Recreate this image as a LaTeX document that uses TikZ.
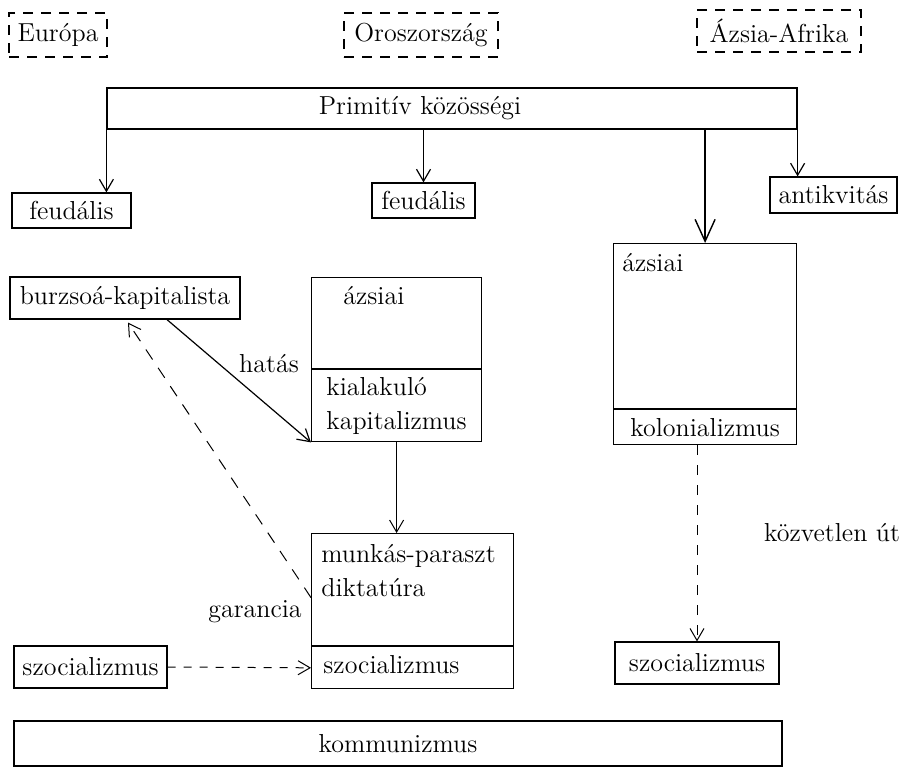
\documentclass[tikz,border=0pt]{standalone}
\usepackage{tikz}
\usetikzlibrary{positioning}
\usetikzlibrary{arrows.meta}

\begin{document}
\begin{tikzpicture}[x=0.5pt,y=-0.5pt]

 \tikzset{box/.style={
 		draw, line width=0.6pt,
 		minimum width=#1, minimum height=21pt,
 		inner sep=0pt, anchor=center
 	},
 	box/.default=50pt,
 	dashbox/.style={box=#1, dash pattern=on 5pt off 4pt},
 	part/.style 2 args={draw, line width=0.6pt,
 		minimum width=#1, minimum height=#2,
 		inner sep=0pt, anchor=north west
 	},
 	txt/.style={inner sep=0pt, align=left},
 	every node/.append style={font=\fontsize{13}{17}\selectfont},
 	>={Straight Barb[length=6pt,width=7pt]}
 }
 \useasboundingbox (0,0) rectangle (903,767);

 % fejlec
 \node[dashbox=49pt, minimum height=22pt] (eur) at (58,35) {Európa};
 \node[dashbox=77pt, minimum height=22pt] (oro) at (421,35) {Oroszország};
 \node[dashbox=82pt] (aaf) at (779,31) {Ázsia-Afrika};

 \node[box=345pt, minimum height=20.5pt] (prim) at (452,108.5) {};
 \node[txt] (primtext) at (420,108.5) {Primitív közösségi};

 \node[box=59.5pt, minimum height=17.5pt] (feu1) at (71.5,210.5) {feudális};
 \node[box=51.5pt, minimum height=17.5pt] (feu2) at (423.5,200.5) {feudális};
 \node[box=63.5pt, minimum height=18pt] (antik) at (833.5,195) {antikvitás};

 \node[box=115pt] (burzs) at (125,298) {burzsoá-kapitalista};

 % Oroszorszag oszlop
 \node[part={85pt}{45.5pt}] (azL) at (311,277) {};
 \node[part={85pt}{36pt}] (kapit) at (azL.south west) {};
 \node[txt, anchor=west] (azLtext) at (343,296) {ázsiai};
 \node[txt, anchor=west] (kapittext) at (326,405.5) {kialakuló\\kapitalizmus};

 \node[part={101pt}{56pt}] (munk) at (311,533) {};
 \node[part={101pt}{21pt}] (szocM) at (munk.south west) {};
 \node[txt, anchor=west] (munktext) at (321,571) {munkás-paraszt\\diktatúra};
 \node[txt, anchor=west] (szocMtext) at (323,665) {szocializmus};

 \node[box=76.5pt] (szocL) at (90.5,667) {szocializmus};

 % Azsia-Afrika oszlop
 \node[part={91.5pt}{82.5pt}] (azR) at (613,243) {};
 \node[part={91.5pt}{17.5pt}] (kolon) at (azR.south west) {kolonializmus};
 \node[txt, anchor=west] (azRtext) at (622,263) {ázsiai};
 \node[box=82pt] (szocR) at (697,663) {szocializmus};

 \node[box=384pt, minimum height=22.5pt] (kommu) at (398,743.5) {kommunizmus};

 % feliratok
 \node[txt] (hatas) at (269,364) {hatás};
 \node[txt] (garancia) at (255,612) {garancia};
 \node[txt] (kozvetlen) at (832,533) {közvetlen út};

 % nyilak
 \draw[->, line width=0.6pt] (prim.south west) -- (prim.south west |- feu1.north);
 \draw[->, line width=0.6pt] (prim.south -| feu2.north) -- (feu2.north);
 \draw[->, line width=0.7pt, >={Straight Barb[length=11pt,width=10pt]}] (prim.south -| azR.north) -- (azR.north);
 \draw[->, line width=0.6pt] (prim.south east) -- (prim.south east |- antik.north);

 \draw[->, line width=0.6pt] ([xshift=21pt]burzs.south) -- (kapit.south west);
 \draw[->, line width=0.5pt, dash pattern=on 6pt off 5pt] ([yshift=-4pt]munk.west) -- ([xshift=1.5pt,yshift=-1.5pt]burzs.south);
 \draw[->, line width=0.5pt] (kapit.south) -- (kapit.south |- munk.north);
 \draw[->, line width=0.5pt, dash pattern=on 4pt off 4pt] (szocL.east) -- (szocM.west);
 \draw[->, line width=0.5pt, dash pattern=on 5pt off 5pt] (kolon.south -| szocR.north) -- (szocR.north);
\end{tikzpicture}
\end{document}
